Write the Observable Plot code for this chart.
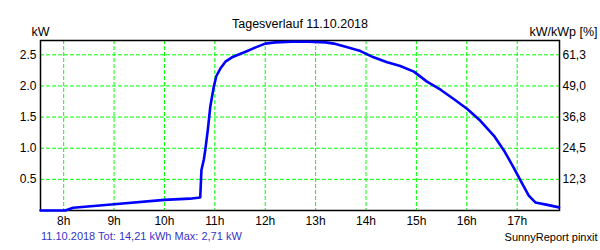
<!DOCTYPE html>
<html>
<head>
<meta charset="utf-8">
<script src="https://cdn.jsdelivr.net/npm/d3@7"></script>
<script src="https://cdn.jsdelivr.net/npm/@observablehq/plot@0.6"></script>
<style>
  html, body { margin: 0; padding: 0; background: white; }
</style>
</head>
<body>
<div id="chart"></div>
<script>
// Data (hours as decimal, power in kW)
const hours = [7.54, 8.03, 8.19, 9.0, 10.0, 10.5, 10.71, 10.734, 10.78, 10.81, 10.86, 10.91, 10.98, 11.03, 11.11, 11.21, 11.34, 11.61, 11.81, 12.0, 12.2, 12.53, 12.86, 13.2, 13.36, 13.63, 13.89, 14.15, 14.42, 14.68, 14.95, 15.21, 15.48, 15.74, 16.01, 16.27, 16.54, 16.74, 16.93, 17.1, 17.23, 17.36, 17.6, 17.83];
const power = [0, 0, 0.045, 0.10, 0.17, 0.19, 0.21, 0.65, 0.81, 0.97, 1.29, 1.67, 1.99, 2.16, 2.28, 2.39, 2.46, 2.55, 2.62, 2.68, 2.70, 2.71, 2.71, 2.70, 2.68, 2.62, 2.56, 2.46, 2.38, 2.32, 2.23, 2.07, 1.94, 1.79, 1.63, 1.44, 1.20, 0.96, 0.69, 0.43, 0.24, 0.13, 0.09, 0.05];
const xTicks = [8, 9, 10, 11, 12, 13, 14, 15, 16, 17];
const yTicks = [0.5, 1, 1.5, 2, 2.5];
const rightLabels = ["12,3", "24,5", "36,8", "49,0", "61,3"];
const title = "Tagesverlauf 11.10.2018";
const leftUnit = "kW";
const rightUnit = "kW/kWp [%]";
const caption = "11.10.2018 Tot: 14,21 kWh Max: 2,71 kW";
const credit = "SunnyReport pinxit";

const data = hours.map((h, i) => ({h, p: power[i]}));
const grid = "#00ff00";

const chart = Plot.plot({
  width: 600,
  height: 250,
  marginLeft: 40,
  marginRight: 41,
  marginTop: 40,
  marginBottom: 40,
  style: {fontFamily: "'Liberation Sans', Arial, sans-serif", fontSize: "12px", background: "white", color: "black"},
  x: {domain: [7.54, 17.84]},
  y: {domain: [0, 2.73]},
  marks: [
    Plot.gridX(xTicks, {stroke: grid, strokeOpacity: 1, strokeDasharray: "4,2", strokeWidth: 1}),
    Plot.gridY(yTicks, {stroke: grid, strokeOpacity: 1, strokeDasharray: "4,2", strokeWidth: 1}),
    Plot.axisX(xTicks, {tickSize: 0, tickPadding: 6, tickFormat: d => d + "h", label: null, fill: "black", fontSize: 12}),
    Plot.axisY(yTicks, {anchor: "left", tickSize: 0, tickPadding: 4, label: null, fill: "black", fontSize: 12}),
    Plot.axisY(yTicks, {anchor: "right", tickSize: 0, tickPadding: 3, label: null, fill: "black", fontSize: 12,
      tickFormat: d => rightLabels[yTicks.indexOf(d)]}),
    Plot.frame({stroke: "black", strokeWidth: 1.5}),
    Plot.line(data, {x: "h", y: "p", stroke: "#0000ff", strokeWidth: 2.6, curve: "linear"}),
    Plot.text([title], {frameAnchor: "top", dy: -21, text: d => d, fill: "black", fontSize: 12.5}),
    Plot.text([leftUnit], {frameAnchor: "top-left", textAnchor: "middle", dy: -13.5, text: d => d, fill: "black", fontSize: 12.5}),
    Plot.text([rightUnit], {frameAnchor: "top-right", textAnchor: "end", dx: 38, dy: -13, text: d => d, fill: "black", fontSize: 12.5}),
    Plot.text([caption], {frameAnchor: "bottom-left", textAnchor: "start", dx: 0.5, dy: 29.5, text: d => d, fill: "#3535c8", fontSize: 11}),
    Plot.text([credit], {frameAnchor: "bottom-right", textAnchor: "end", dx: 38, dy: 30.5, text: d => d, fill: "black", fontSize: 11})
  ]
});
document.getElementById("chart").appendChild(chart);
</script>
</body>
</html>
